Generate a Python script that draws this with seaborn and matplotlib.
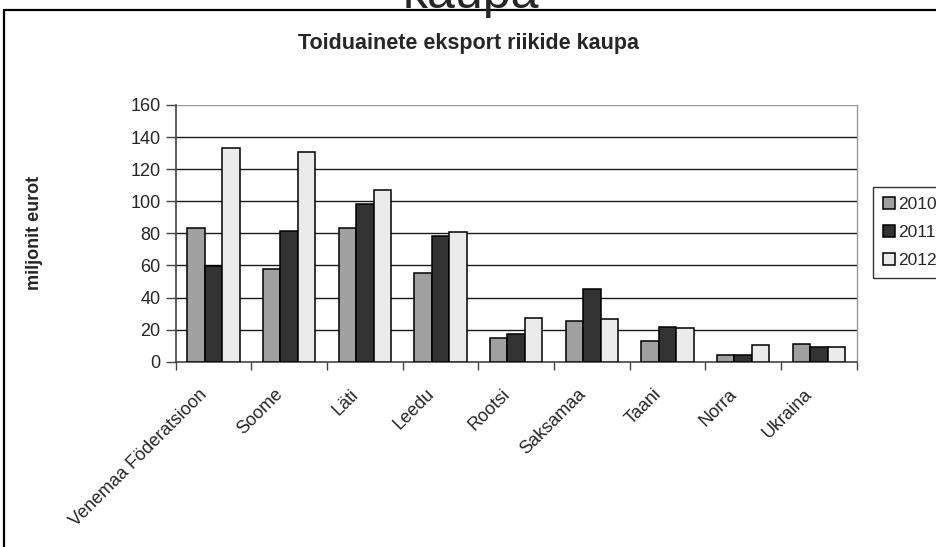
import matplotlib
matplotlib.use("Agg")
import matplotlib.pyplot as plt
from matplotlib.lines import Line2D
from matplotlib.transforms import ScaledTranslation
import seaborn as sns
import pandas as pd
import numpy as np

countries = ["Venemaa Föderatsioon", "Soome", "Läti", "Leedu", "Rootsi",
             "Saksamaa", "Taani", "Norra", "Ukraina"]
years = ["2010", "2011", "2012"]
v2010 = [83.5, 58.0, 83.5, 55.2, 14.5, 25.4, 12.8, 4.3, 11.0]
v2011 = [59.7, 81.4, 98.0, 78.1, 17.2, 45.5, 21.9, 4.3, 9.1]
v2012 = [133.3, 130.6, 107.1, 80.6, 27.1, 26.5, 20.9, 10.1, 9.1]
colors = ["#a0a0a0", "#333333", "#ebebeb"]
yticks = [0, 20, 40, 60, 80, 100, 120, 140, 160]

df = pd.DataFrame({
    "country": countries * 3,
    "year": [years[0]] * 9 + [years[1]] * 9 + [years[2]] * 9,
    "value": v2010 + v2011 + v2012,
})

sns.set_style("white")
plt.rcParams["font.family"] = ["Liberation Sans", "DejaVu Sans"]

W, H = 936, 547
fig = plt.figure(figsize=(W / 100, H / 100), dpi=100)
ax = fig.add_axes([175.7 / W, 1 - 361.7 / H, (856.7 - 175.7) / W, (361.7 - 105) / H])

sns.barplot(data=df, x="country", y="value", hue="year", order=countries,
            hue_order=years, palette=colors, edgecolor="black", linewidth=1.1,
            width=0.69, ax=ax, legend=True, zorder=3)

ax.set_ylim(0, 160)
ax.set_xlim(-0.5, len(countries) - 0.5)
ax.set_yticks(yticks)
ax.set_yticklabels([str(t) for t in yticks], fontsize=13)
for t in yticks[1:-1]:
    ax.axhline(t, color="#1a1a1a", lw=1.0, zorder=1)
ax.axhline(160, color="#999999", lw=1.0, zorder=1)

ax.set_xticks(range(len(countries)))
ax.set_xticklabels(countries, rotation=45, ha="right", rotation_mode="anchor",
                   fontsize=13)
ax.set_xticks(np.arange(-0.5, len(countries), 1.0), minor=True)
ax.tick_params(axis="x", which="major", length=0, pad=8)
ax.tick_params(axis="x", which="minor", length=6, width=1, color="#444444",
               direction="out", bottom=True)
ax.tick_params(axis="y", length=7, width=1, color="#444444", direction="out",
               left=True, pad=4)
off = ScaledTranslation(-15 / 100, -13 / 100, fig.dpi_scale_trans)
for lab in ax.get_xticklabels():
    lab.set_transform(lab.get_transform() + off)

for side in ["left", "bottom"]:
    ax.spines[side].set_color("#444444")
    ax.spines[side].set_linewidth(1.2)
ax.spines["right"].set_color("#999999")
ax.spines["right"].set_linewidth(1.0)
ax.spines["top"].set_visible(False)

ax.set_xlabel("")
ax.set_ylabel("miljonit eurot", fontsize=13, fontweight="bold")
ax.yaxis.set_label_coords((43 - 175.7) / 681.0, 0.5)

fig.text(0.5, 1 - 44 / H, "Toiduainete eksport riikide kaupa", ha="center",
         va="center", fontsize=15.5, fontweight="bold")
fig.text(0.503, 1 - 8 / H, "kaupa", ha="center", va="baseline", fontsize=36)

# legend
handles, labels = ax.get_legend_handles_labels()
ax.get_legend().remove()
leg = fig.legend(handles, labels, loc="upper left",
                 bbox_to_anchor=(873 / W, 1 - 187 / H), fontsize=12.5,
                 frameon=True, fancybox=False, handlelength=0.7,
                 handleheight=0.7, handletextpad=0.2, labelspacing=0.75,
                 borderpad=0.55, borderaxespad=0)
leg.get_frame().set_edgecolor("black")
leg.get_frame().set_linewidth(1.0)

# outer chart border (cropped)
fig.add_artist(Line2D([4 / W, 4 / W], [0, 1 - 9.5 / H], transform=fig.transFigure,
                      color="black", lw=1.6))
fig.add_artist(Line2D([4 / W, 1.0], [1 - 9.5 / H, 1 - 9.5 / H],
                      transform=fig.transFigure, color="black", lw=1.6))

fig.savefig("out.png", dpi=100)
